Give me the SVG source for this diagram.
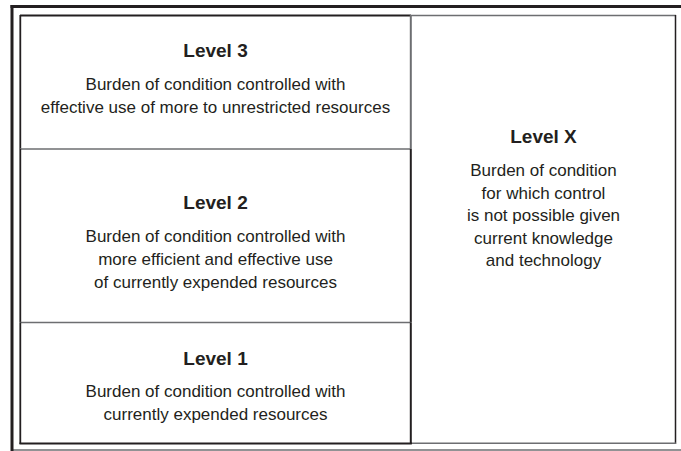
<svg xmlns="http://www.w3.org/2000/svg" width="681" height="451" viewBox="0 0 681 451">
<style>
.bg{fill:#ffffff}
.dk{stroke:#231f20;fill:none}
.gr{stroke:#6d6e71;fill:none}
.t{font-family:"Liberation Sans Narrow","Liberation Sans",Arial,sans-serif;fill:#231f20;text-anchor:middle}
.h{font-size:19px;font-weight:bold}
.b{font-size:17px}
</style>
<rect class="bg" x="0" y="0" width="681" height="451"/>
<g id="frame">
<line class="gr" x1="11" y1="450" x2="681" y2="450" stroke-width="1.5"/>
<line class="dk" x1="10.5" y1="6.5" x2="681" y2="6.5" stroke-width="3"/>
<line class="dk" x1="12" y1="5" x2="12" y2="451" stroke-width="3"/>
</g>
<g id="connectors">
<line class="gr" x1="411" y1="15.5" x2="676" y2="15.5" stroke-width="1.5"/>
<line class="dk" x1="675.5" y1="15" x2="675.5" y2="444" stroke-width="1.5"/>
<line class="gr" x1="411" y1="443.3" x2="676" y2="443.3" stroke-width="1.5"/>
</g>
<g id="level3">
<line class="dk" x1="20" y1="15.5" x2="411" y2="15.5" stroke-width="1.8"/>
<line class="dk" x1="20.3" y1="15" x2="20.3" y2="149" stroke-width="1.8"/>
<line class="gr" x1="410.8" y1="15" x2="410.8" y2="149" stroke-width="2"/>
<line class="gr" x1="20" y1="149" x2="411" y2="149" stroke-width="1.5"/>
<text class="t h" x="215.5" y="57">Level 3</text>
<text class="t b" x="215.5" y="90">Burden of condition controlled with</text>
<text class="t b" x="215.5" y="113">effective use of more to unrestricted resources</text>
</g>
<g id="level2">
<line class="dk" x1="20.3" y1="149" x2="20.3" y2="322.5" stroke-width="1.8"/>
<line class="dk" x1="410.8" y1="149" x2="410.8" y2="322.5" stroke-width="2"/>
<line class="gr" x1="20" y1="322.5" x2="411" y2="322.5" stroke-width="1.5"/>
<text class="t h" x="215.5" y="209">Level 2</text>
<text class="t b" x="215.5" y="242">Burden of condition controlled with</text>
<text class="t b" x="215.5" y="265">more efficient and effective use</text>
<text class="t b" x="215.5" y="288">of currently expended resources</text>
</g>
<g id="level1">
<line class="dk" x1="20.3" y1="322.5" x2="20.3" y2="444" stroke-width="1.8"/>
<line class="dk" x1="410.8" y1="322.5" x2="410.8" y2="444" stroke-width="2"/>
<line class="dk" x1="19.5" y1="443.5" x2="411.8" y2="443.5" stroke-width="2"/>
<text class="t h" x="215.5" y="365">Level 1</text>
<text class="t b" x="215.5" y="397">Burden of condition controlled with</text>
<text class="t b" x="215.5" y="420">currently expended resources</text>
</g>
<g id="levelX">
<text class="t h" x="543.5" y="143">Level X</text>
<text class="t b" x="543.5" y="176">Burden of condition</text>
<text class="t b" x="543.5" y="198.5">for which control</text>
<text class="t b" x="543.5" y="221">is not possible given</text>
<text class="t b" x="543.5" y="243.5">current knowledge</text>
<text class="t b" x="543.5" y="266">and technology</text>
</g>
</svg>
